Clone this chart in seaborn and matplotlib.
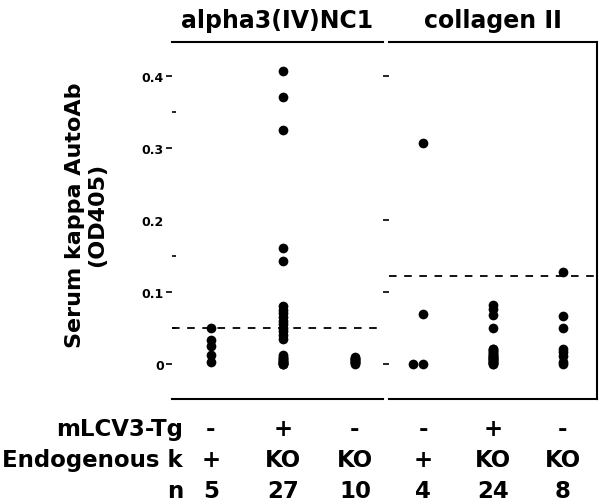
"""Serum kappa autoantibodies against alpha3(IV)NC1 and collagen II by genotype."""
import matplotlib

matplotlib.use("Agg")
import matplotlib.pyplot as plt
import matplotlib.transforms as mtransforms
import pandas as pd
import seaborn as sns

sns.set_style("white")
plt.rcParams["font.family"] = ["DejaVu Sans"]
plt.rcParams.update({
    "text.color": "black",
    "axes.labelcolor": "black",
    "axes.edgecolor": "black",
    "xtick.color": "black",
    "ytick.color": "black",
})

# --- data (OD405) -----------------------------------------------------------
panel_titles = ["alpha3(IV)NC1", "collagen II"]
left_groups = ["a_wt", "a_tg_ko", "a_ko"]
right_groups = ["c_wt", "c_tg_ko", "c_ko"]

a_wt = [0.049, 0.033, 0.024, 0.012, 0.003]
a_tg_ko = [0.407, 0.371, 0.325, 0.161, 0.143,
           0.080, 0.075, 0.070, 0.065, 0.060, 0.055, 0.050, 0.045, 0.040, 0.035,
           0.012, 0.010, 0.008, 0.006, 0.005, 0.004, 0.003, 0.002, 0.001,
           0.0, 0.0, 0.0]
a_ko = [0.009, 0.008, 0.007, 0.006, 0.005, 0.004, 0.003, 0.002, 0.001, 0.0]

c_wt = [0.307, 0.069, 0.0, 0.0]
c_tg_ko = [0.081, 0.076, 0.068, 0.049,
           0.021, 0.020, 0.018, 0.017, 0.015, 0.014, 0.012, 0.011, 0.010, 0.009,
           0.008, 0.007, 0.006, 0.005, 0.004, 0.003, 0.002, 0.001, 0.0, 0.0]
c_ko = [0.128, 0.067, 0.049, 0.021, 0.016, 0.011, 0.003, 0.0]

cutoffs = [0.049, 0.122]

row_labels = ["mLCV3-Tg", "Endogenous k", "n"]
tg_row = ["-", "+", "-", "-", "+", "-"]
endo_row = ["+", "KO", "KO", "+", "KO", "KO"]
n_row = ["5", "27", "10", "4", "24", "8"]

left_ticks = [0, 0.1, 0.2, 0.3, 0.4]
left_tick_labels = ["0", "0.1", "0.2", "0.3", "0.4"]
left_minor = [0.05, 0.15, 0.35]
right_ticks = [0, 0.1, 0.2, 0.4]


def to_frame(groups, values):
    rows = [(g, v) for g, vals in zip(groups, values) for v in vals]
    return pd.DataFrame(rows, columns=["group", "od"])


df_left = to_frame(left_groups, [a_wt, a_tg_ko, a_ko])
df_right = to_frame(right_groups, [c_wt, c_tg_ko, c_ko])

W, H = 600, 502
fig = plt.figure(figsize=(W / 100, H / 100), dpi=100)
ax_l = fig.add_axes([172 / W, 102 / H, 211 / W, 357 / H])
ax_r = fig.add_axes([389 / W, 102 / H, 208 / W, 357 / H])

pt = dict(color="black", size=7, linewidth=0)
sns.stripplot(data=df_left, x="group", y="od", order=left_groups,
              jitter=False, ax=ax_l, **pt)
sns.stripplot(data=df_right[df_right.group != "c_wt"], x="group", y="od",
              order=right_groups, jitter=False, ax=ax_r, **pt)
sns.swarmplot(data=df_right[df_right.group == "c_wt"], x="group", y="od",
              order=right_groups, ax=ax_r, **pt)

for ax, title, cut in zip([ax_l, ax_r], panel_titles, cutoffs):
    ax.axhline(cut, color="black", lw=1.3, dashes=(4.2, 4.2))
    ax.set_ylim(-0.049, 0.447)
    ax.set_xlabel("")
    ax.set_ylabel("")
    ax.set_xticks([])
    ax.set_title(title, fontsize=17, fontweight="bold", pad=11)
    ax.spines["left"].set_visible(False)
    for s in ["top", "bottom", "right"]:
        ax.spines[s].set_linewidth(1.5)

ax_l.set_xlim(-0.54, 2.39)
ax_r.set_xlim(-0.49, 2.49)
ax_l.spines["right"].set_visible(False)

ax_l.set_yticks(left_ticks)
ax_l.set_yticklabels(left_tick_labels, fontsize=9, fontweight="bold")
ax_l.set_yticks(left_minor, minor=True)
ax_l.tick_params(axis="y", which="major", direction="out", length=4,
                 width=1.2, pad=2, left=True)
ax_l.tick_params(axis="y", which="minor", direction="in", length=3,
                 width=1.2, left=True)
ax_l.yaxis.get_major_ticks()[2].tick1line.set_visible(False)

ax_r.set_yticks(right_ticks)
ax_r.tick_params(axis="y", which="major", direction="out", length=4,
                 width=1.2, left=True, labelleft=False)

fig.text(86 / W, 1 - 215 / H, "Serum kappa AutoAb\n(OD405)", rotation=90,
         ha="center", va="center", multialignment="center",
         fontsize=16, fontweight="bold", linespacing=1.15)

# --- genotype table under the panels ------------------------------------------
row_base = [436, 467, 498]
for label, yb in zip(row_labels, row_base):
    fig.text(183 / W, 1 - yb / H, label, ha="right", va="baseline",
             fontsize=16.5, fontweight="bold")

for ax, sl in [(ax_l, slice(0, 3)), (ax_r, slice(3, 6))]:
    trans = mtransforms.blended_transform_factory(ax.transData, fig.transFigure)
    for row, yb in zip([tg_row, endo_row, n_row], row_base):
        for i, txt in enumerate(row[sl]):
            ax.text(i, 1 - yb / H, txt, transform=trans, ha="center",
                    va="baseline", fontsize=16.5, fontweight="bold",
                    clip_on=False)

fig.savefig("out.png", dpi=100)
